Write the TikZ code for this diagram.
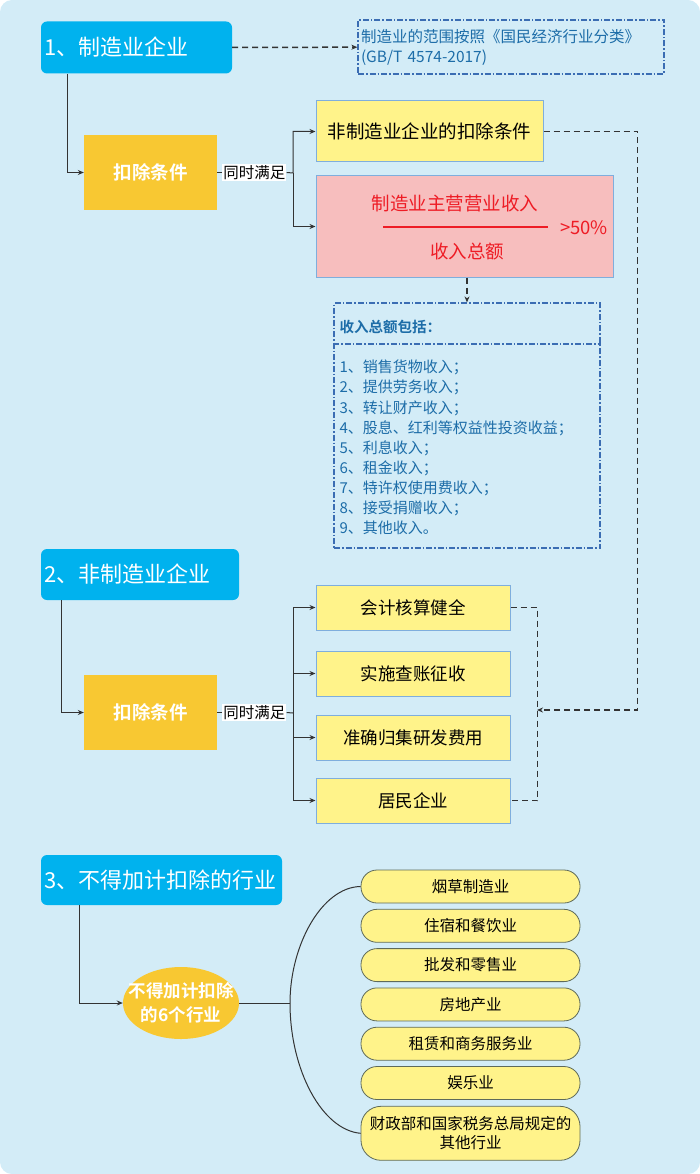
\documentclass[tikz,border=0pt]{standalone}
\usepackage{fontspec}
\setmainfont{Noto Sans CJK SC}[BoldFont={Noto Sans CJK SC Bold}]
\usepackage{xcolor}
\usepackage{tikz}
\usetikzlibrary{shapes,arrows.meta,positioning}

\definecolor{bgblue}{HTML}{D3ECF7}
\definecolor{headblue}{HTML}{00B2EE}
\definecolor{gold}{HTML}{F8C832}
\definecolor{lightyellow}{HTML}{FFF38A}
\definecolor{pinkbox}{HTML}{F7BEBE}
\definecolor{boxedge}{HTML}{7FAEDD}
\definecolor{notedge}{HTML}{3B6DB3}
\definecolor{notetext}{HTML}{1D6DA8}
\definecolor{redtext}{HTML}{EE1C25}
\definecolor{pilledge}{HTML}{5E6A5A}

\begin{document}
\begin{tikzpicture}[x=1pt, y=-1pt,
    head/.style={fill=headblue, rounded corners=6pt, text=white, align=left, inner xsep=3pt, minimum height=52pt, font=\fontsize{22}{26}\selectfont},
    kbox/.style={fill=gold, text=white, minimum width=133pt, minimum height=75pt, font=\bfseries\fontsize{18.5}{22}\selectfont},
    both/.style={fill=white, inner sep=1pt, font=\fontsize{15.5}{18}\selectfont},
    ybox/.style={draw=boxedge, line width=1pt, fill=lightyellow, font=\fontsize{17.5}{20}\selectfont},
    pill/.style={draw=pilledge, line width=0.8pt, fill=lightyellow, rounded corners=16pt, minimum width=219pt, minimum height=33pt, inner sep=1pt, font=\fontsize{15.5}{19}\selectfont},
    dashdot/.style={draw=notedge, line width=1.2pt, dash pattern=on 6pt off 2pt on 1.5pt off 2pt},
    link/.style={draw=black!80, line width=1pt, ->},
    dline/.style={draw=black!80, line width=1.5pt, dash pattern=on 6pt off 4pt},
    >={Stealth[length=6pt,width=5pt]}]
    \useasboundingbox (0,0) rectangle (700,1174);
    \fill[bgblue, rounded corners=12pt] (0,0) rectangle (700,1174);

    % 1 manufacturing
    \node[head, text width=185pt] (s1) at (136.5,47.5) {1、制造业企业};
    \node[dashdot, minimum width=306pt, minimum height=54pt, text width=300pt, align=left, inner xsep=3pt, text=notetext, font=\fontsize{15.5}{20}\selectfont] (note) at (511,47) {制造业的范围按照《国民经济行业分类》\\(GB/T 4574-2017)};
    \draw[dline, ->] (s1) -- (note);

    \node[kbox] (k1) at (150.5,172.5) {扣除条件};
    \node[both, right=5pt of k1] (t1) {同时满足};
    \node[ybox, minimum width=227pt, minimum height=61pt, font=\fontsize{18.5}{22}\selectfont] (c1) at (429.5,131.5) {非制造业企业的扣除条件};
    \node[draw=boxedge, line width=1pt, fill=pinkbox, minimum width=297pt, minimum height=101pt] (c2) at (464.5,226.5) {};
    \node[text=redtext, font=\fontsize{18.5}{22}\selectfont] (num) at (455,203) {制造业主营营业收入};
    \node[text=redtext, font=\fontsize{18.5}{22}\selectfont] (den) at (467,252) {收入总额};
    \node[text=redtext, font=\fontsize{18.5}{22}\selectfont] (pct) at (584,228) {>50\%};
    \draw[redtext, line width=1.5pt] (383,227) -- (548,227);

    \coordinate (a1) at ([xshift=27pt]s1.south west);
    \draw[link] (a1) |- (k1.west);
    \draw[line width=1pt, draw=black!80] (k1) -- (t1);
    \coordinate (j1) at (293,173);
    \draw[link] (t1.east) -- (j1) |- (c1.west);
    \draw[link] (j1) |- (c2.west);

    % income list
    \node[dashdot, minimum width=266pt, minimum height=245pt] (inc) at (467,425.5) {};
    \node[anchor=west, text=notetext, font=\bfseries\fontsize{14.5}{17}\selectfont] (inchead) at (336,327) {收入总额包括：};
    \draw[dashdot] (inc.west |- 0,344) -- (inc.east |- 0,344);
    \node[anchor=west, align=left, text=notetext, font=\fontsize{15}{20.1}\selectfont] (inclist) at (336,447.5) {1、销售货物收入；\\2、提供劳务收入；\\3、转让财产收入；\\4、股息、红利等权益性投资收益；\\5、利息收入；\\6、租金收入；\\7、特许权使用费收入；\\8、接受捐赠收入；\\9、其他收入。};
    \draw[dline, ->] (c2.south -| inc.north) -- (inc.north);

    % 2 non-manufacturing
    \node[head, text width=192pt, minimum height=51pt] (s2) at (140,574.5) {2、非制造业企业};
    \node[kbox] (k2) at (150.5,712.5) {扣除条件};
    \node[both, right=5pt of k2] (t2) {同时满足};
    \node[ybox, minimum width=194pt, minimum height=45pt] (d1) at (413,607.5) {会计核算健全};
    \node[ybox, minimum width=194pt, minimum height=45pt, below=20pt of d1] (d2) {实施查账征收};
    \node[ybox, minimum width=194pt, minimum height=45pt, below=18pt of d2] (d3) {准确归集研发费用};
    \node[ybox, minimum width=194pt, minimum height=45pt, below=17pt of d3] (d4) {居民企业};

    \coordinate (a2) at ([xshift=21pt]s2.south west);
    \draw[link] (a2) |- (k2.west);
    \draw[line width=1pt, draw=black!80] (k2) -- (t2);
    \coordinate (j3) at (293,713);
    \draw[line width=1pt, draw=black!80] (t2.east) -- (j3);
    \foreach \d in {d1,d2,d3,d4}
        \draw[link] (j3) |- (\d.west);
    \draw[dline] (d1.east) -- ++(27,0) |- (d4.east);
    \coordinate (j2) at (537,710);
    \draw[dline, ->] (c1.east) -- ++(94,0) |- (j2);

    % 3 excluded industries
    \node[head, text width=235pt, minimum height=50pt] (s3) at (161.5,880) {3、不得加计扣除的行业};
    \node[ellipse, fill=gold, minimum width=116pt, minimum height=72pt] (k3) at (181,1003) {};
    \node[text=white, align=center, font=\bfseries\fontsize{17.5}{24}\selectfont] (k3t) at (k3) {不得加计扣除\\的6个行业};
    \coordinate (a3) at ([xshift=39pt]s3.south west);
    \draw[link] (a3) |- (k3.west);
    \coordinate (j4) at (290,1003);
    \draw[line width=1pt, draw=black!80] (k3.east) -- (j4);

    \node[pill] (i1) at (470.5,886.5) {烟草制造业};
    \node[pill, below=5.5pt of i1] (i2) {住宿和餐饮业};
    \node[pill, below=5.5pt of i2] (i3) {批发和零售业};
    \node[pill, below=5.5pt of i3] (i4) {房地产业};
    \node[pill, below=5.5pt of i4] (i5) {租赁和商务服务业};
    \node[pill, below=5.5pt of i5] (i6) {娱乐业};
    \node[pill, minimum height=54pt, rounded corners=20pt, align=center, below=6pt of i6] (i7) {财政部和国家税务总局规定的\\其他行业};
    \draw[line width=1pt, draw=black!80] (i1.west) .. controls (322,887) and (290,945) .. (j4) .. controls (290,1070) and (322,1130) .. (i7.west);
\end{tikzpicture}
\end{document}
